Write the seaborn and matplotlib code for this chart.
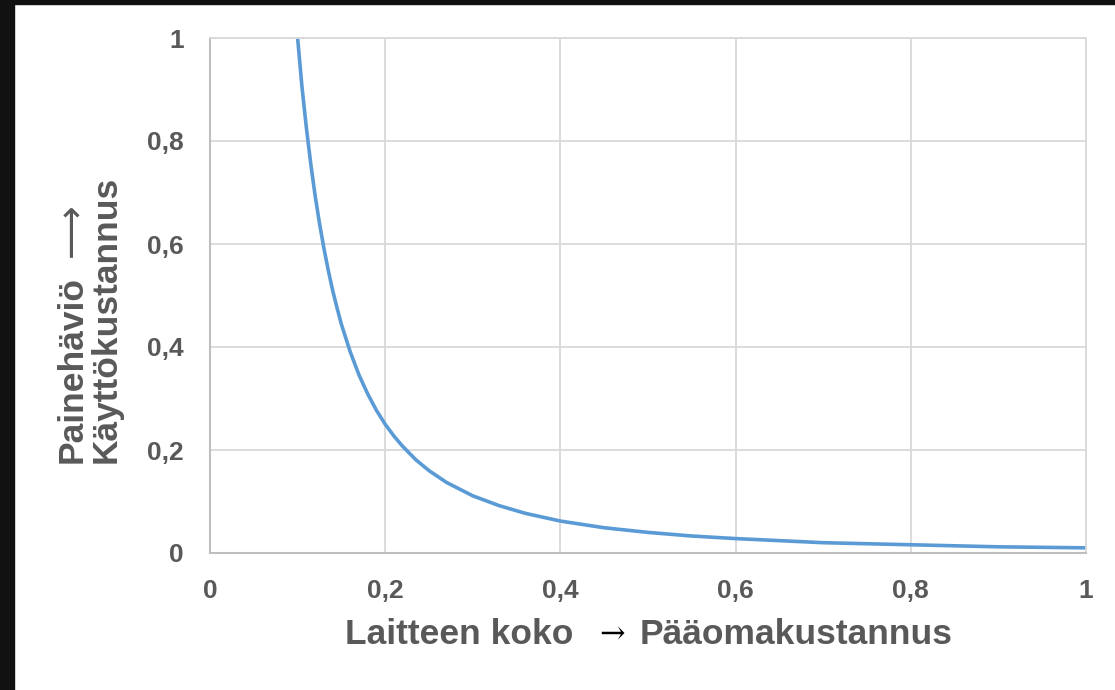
import matplotlib
matplotlib.use('Agg')
import matplotlib.pyplot as plt
import matplotlib.patches as mpatches
import pandas as pd
import seaborn as sns

# Values
koko = [0.100, 0.105, 0.110, 0.115, 0.120, 0.125, 0.130, 0.135, 0.140, 0.145,
        0.150, 0.160, 0.170, 0.180, 0.190, 0.200, 0.210, 0.220, 0.235, 0.250,
        0.270, 0.300, 0.330, 0.360, 0.400, 0.450, 0.500, 0.550, 0.600, 0.700,
        0.800, 0.900, 1.000]
painehavio = [1.000, 0.905, 0.826, 0.756, 0.694, 0.640, 0.592, 0.549, 0.510, 0.476,
              0.444, 0.391, 0.346, 0.309, 0.277, 0.250, 0.227, 0.207, 0.181, 0.160,
              0.137, 0.111, 0.092, 0.077, 0.062, 0.049, 0.040, 0.033, 0.028, 0.020,
              0.016, 0.012, 0.010]
ticks = [0, 0.2, 0.4, 0.6, 0.8, 1]
tick_labels = ['0', '0,2', '0,4', '0,6', '0,8', '1']

df = pd.DataFrame({'koko': koko, 'painehavio': painehavio})

sns.set_theme(style="white")
plt.rcParams['font.family'] = ['Liberation Sans', 'DejaVu Sans']

fig = plt.figure(figsize=(11.15, 6.9), dpi=100)
fig.patch.set_facecolor('white')
ax = fig.add_axes([210 / 1115, 1 - 553 / 690, 876 / 1115, 515 / 690])

sns.lineplot(data=df, x='koko', y='painehavio', ax=ax, color='#5B9BD5', linewidth=2.6)

ax.set_xlim(0, 1)
ax.set_ylim(0, 1)
ax.set_xticks(ticks)
ax.set_yticks(ticks)
ax.set_xticklabels(tick_labels)
ax.set_yticklabels(tick_labels)
ax.grid(True, color='#d9d9d9', linewidth=1.3)
ax.set_axisbelow(True)
for side in ['top', 'right']:
    ax.spines[side].set_color('#d9d9d9')
    ax.spines[side].set_linewidth(1.3)
for side in ['left', 'bottom']:
    ax.spines[side].set_color('#bfbfbf')
    ax.spines[side].set_linewidth(1.5)
ax.tick_params(axis='both', length=0, labelsize=19, labelcolor='#595959')
ax.tick_params(axis='y', pad=19)
ax.tick_params(axis='x', pad=19)
for lbl in ax.get_xticklabels() + ax.get_yticklabels():
    lbl.set_fontweight('bold')
ax.set_xlabel('')
ax.set_ylabel('')

# x-axis title
fig.text(345 / 1115, 1 - 634 / 690, 'Laitteen koko', fontsize=25.5, fontweight='bold',
         color='#595959', ha='left', va='center')
fig.text(612 / 1115, 1 - 634 / 690, '→', fontsize=22, color='black',
         family=['DejaVu Serif'], ha='center', va='center')
fig.text(640 / 1115, 1 - 634 / 690, 'Pääomakustannus', fontsize=25.5, fontweight='bold',
         color='#595959', ha='left', va='center')

# y-axis title (two lines, rotated)
fig.text(72 / 1115, 1 - 463 / 690, 'Painehäviö', fontsize=25.5, fontweight='bold',
         color='#595959', rotation=90, ha='center', va='bottom')
fig.text(72 / 1115, 1 - 230 / 690, '⟶', fontsize=27, color='#595959',
         family=['DejaVu Sans'], rotation=90, ha='center', va='center')
fig.text(106 / 1115, 1 - 463 / 690, 'Käyttökustannus', fontsize=25.5, fontweight='bold',
         color='#595959', rotation=90, ha='center', va='bottom')

# dark frame along top and left edge
fig.patches.append(mpatches.Rectangle((0, 1 - 4 / 690), 1, 4 / 690, transform=fig.transFigure,
                                      color='#111111', zorder=0))
fig.patches.append(mpatches.Rectangle((0, 0), 14 / 1115, 1, transform=fig.transFigure,
                                      color='#111111', zorder=0))

fig.savefig('out.png', dpi=100, facecolor='white')
